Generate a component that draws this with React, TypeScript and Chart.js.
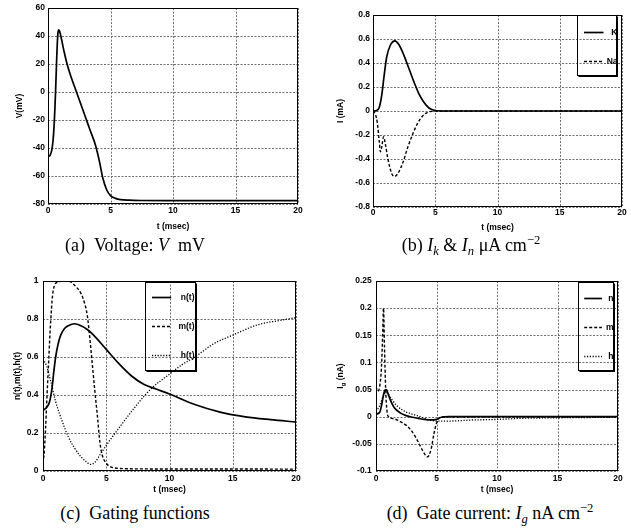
import React, { useEffect, useRef } from 'react';
import { Chart, registerables } from 'chart.js';

Chart.register(...registerables);

// ---------- shared ----------
const xTicks = [0, 5, 10, 15, 20];

// ---------- (a) voltage ----------
const vTime = [0, 0.1, 0.2, 0.3, 0.4, 0.5, 0.55, 0.6, 0.65, 0.7, 0.75, 0.8, 0.86, 0.93, 1.0, 1.1, 1.2, 1.35, 1.5, 1.8, 2.2, 2.6, 3.0, 3.4, 3.8, 4.1, 4.4, 4.7, 5.0, 5.4, 5.8, 6.5, 7.5, 10, 15, 20];
const vValues = [-45.5, -45.8, -44.5, -41.5, -35, -22, -12, -1, 12, 25, 36, 42.5, 44.5, 43.5, 41, 37, 32.5, 26.5, 21, 12, 2, -8, -18, -28, -38, -49, -62, -70, -74, -76, -76.9, -77.3, -77.5, -77.6, -77.6, -77.6];
const vTicks = [-80, -60, -40, -20, 0, 20, 40, 60];

// ---------- (b) ionic currents ----------
const ikTime = [0, 0.3, 0.5, 0.7, 0.9, 1.1, 1.4, 1.75, 2.1, 2.5, 2.9, 3.3, 3.7, 4.1, 4.5, 4.9, 5.4, 6, 10, 15, 20];
const ikValues = [0, 0.005, 0.03, 0.13, 0.3, 0.45, 0.55, 0.585, 0.55, 0.46, 0.35, 0.24, 0.14, 0.07, 0.025, 0.006, 0, 0, 0, 0, 0];
const inaTime = [0, 0.2, 0.35, 0.5, 0.6, 0.7, 0.85, 1.0, 1.2, 1.5, 1.75, 2.0, 2.4, 2.8, 3.2, 3.6, 4.0, 4.4, 4.8, 5.2, 6, 10, 15, 20];
const inaValues = [0, -0.03, -0.1, -0.25, -0.34, -0.3, -0.215, -0.28, -0.4, -0.52, -0.545, -0.52, -0.43, -0.3, -0.19, -0.1, -0.04, -0.01, -0.002, 0, 0, 0, 0, 0];
const iTicks = [-0.8, -0.6, -0.4, -0.2, 0, 0.2, 0.4, 0.6, 0.8];

// ---------- (c) gating functions ----------
const nTime = [0, 0.3, 0.5, 0.7, 0.85, 1.0, 1.2, 1.4, 1.7, 2.0, 2.5, 3.0, 3.5, 4, 5, 6, 7, 8, 9, 10, 12, 14, 16, 18, 20];
const nValues = [0.32, 0.335, 0.36, 0.43, 0.52, 0.6, 0.67, 0.715, 0.75, 0.765, 0.775, 0.765, 0.745, 0.715, 0.64, 0.565, 0.5, 0.455, 0.43, 0.405, 0.35, 0.31, 0.285, 0.27, 0.258];
const mTime = [0, 0.1, 0.2, 0.3, 0.45, 0.6, 0.75, 0.9, 1.1, 1.4, 1.8, 2.2, 2.6, 3.0, 3.3, 3.5, 3.7, 3.9, 4.1, 4.3, 4.5, 4.7, 4.9, 5.2, 5.6, 6.5, 8, 20];
const mValues = [0.04, 0.1, 0.22, 0.37, 0.58, 0.78, 0.92, 0.975, 0.993, 0.998, 1.0, 0.995, 0.97, 0.935, 0.88, 0.82, 0.7, 0.56, 0.42, 0.29, 0.15, 0.08, 0.05, 0.027, 0.017, 0.012, 0.011, 0.01];
const hTime = [0, 0.3, 0.6, 1.0, 1.5, 2.0, 2.5, 3.0, 3.4, 3.75, 4.1, 4.5, 5.0, 5.6, 6.5, 7.5, 8.5, 10, 11, 12, 13.5, 15, 17, 18.5, 20];
const hValues = [0.59, 0.55, 0.475, 0.365, 0.265, 0.18, 0.12, 0.075, 0.05, 0.035, 0.045, 0.085, 0.135, 0.19, 0.27, 0.355, 0.43, 0.51, 0.56, 0.6, 0.67, 0.715, 0.77, 0.79, 0.807];
const gateTicks = [0, 0.2, 0.4, 0.6, 0.8, 1];

// ---------- (d) gate currents ----------
const ignTime = [0, 0.3, 0.45, 0.6, 0.75, 0.85, 1.0, 1.2, 1.5, 2.0, 2.5, 3.0, 3.5, 4.0, 4.5, 5.0, 5.4, 6, 10, 15, 20];
const ignValues = [0.005, 0.008, 0.02, 0.038, 0.049, 0.05, 0.042, 0.03, 0.017, 0.007, 0.002, -0.001, -0.003, -0.005, -0.006, -0.005, -0.001, 0, 0, 0, 0];
const igmTime = [0, 0.15, 0.3, 0.45, 0.55, 0.62, 0.7, 0.8, 0.9, 1.0, 1.5, 2.0, 2.5, 3.0, 3.5, 3.9, 4.25, 4.55, 4.8, 5.0, 5.2, 5.5, 6, 10, 15, 20];
const igmValues = [0.055, 0.047, 0.055, 0.09, 0.15, 0.2, 0.13, 0.05, 0.012, 0.001, -0.004, -0.009, -0.016, -0.028, -0.047, -0.064, -0.074, -0.06, -0.03, -0.012, -0.003, 0, 0, 0, 0, 0];
const ighTime = [0, 0.3, 0.6, 0.8, 1.0, 1.3, 1.7, 2.2, 2.8, 3.4, 4.0, 4.6, 5.2, 6, 8, 10, 12, 15, 20];
const ighValues = [0.01, 0.02, 0.038, 0.045, 0.042, 0.032, 0.021, 0.012, 0.006, 0.002, -0.003, -0.007, -0.008, -0.008, -0.006, -0.005, -0.003, -0.002, -0.001];
const igTicks = [-0.1, -0.05, 0, 0.05, 0.1, 0.15, 0.2, 0.25];

// ---------- styling ----------
const FAMILY = "'Liberation Sans', Arial, Helvetica, sans-serif";
const axisFont = { family: FAMILY, size: 8.5, weight: 'bold' as const, lineHeight: 1.2 };
const SOLID: number[] = [];
const DASHED = [3, 2];
const DOTTED = [1.2, 1.6];

type Series = { label: string; t: number[]; v: number[]; dash: number[]; width: number };
type Key = { align: 'right' | 'center'; right: number; top: number; width: number; height: number; firstRow: number; rowGap: number; sampleStart: number; sampleEnd: number; textRight: number };
type PanelCfg = {
  series: Series[];
  yMin: number; yMax: number; yTicks: number[];
  yTitle?: string;
  yTitleParts?: { text: string; sub?: boolean }[];
  yTitleX?: number;
  yTitlePad: number;
  yWidth: number; yTickPad: number;
  xHeight: number; xTickPad: number; xTitlePad: number;
  padTop: number; padRight: number;
  key?: Key;
};

const fmt = (v: number | string) => String(parseFloat(Number(v).toFixed(4)));

// gnuplot-style dotted grid, frame, key and subscripted y title
const decor = {
  id: 'gnuDecor',
  beforeDatasetsDraw(chart: any) {
    const { ctx, chartArea: a, scales } = chart;
    const xs = scales.x, ys = scales.y;
    ctx.save();
    ctx.strokeStyle = '#6e6e6e';
    ctx.lineWidth = 1;
    ctx.setLineDash([2, 1.5]);
    for (const v of xTicks) {
      const x = Math.round(xs.getPixelForValue(v)) + 0.5;
      ctx.beginPath();
      ctx.moveTo(x, a.top);
      ctx.lineTo(x, a.bottom);
      ctx.stroke();
    }
    for (const t of ys.ticks) {
      const y = Math.round(ys.getPixelForValue(t.value)) + 0.5;
      ctx.beginPath();
      ctx.moveTo(a.left, y);
      ctx.lineTo(a.right, y);
      ctx.stroke();
    }
    ctx.restore();
  },
  afterDatasetsDraw(chart: any, _a: any, opts: any) {
    const { ctx, chartArea: a } = chart;
    ctx.save();
    ctx.setLineDash([]);
    ctx.strokeStyle = '#000';
    ctx.lineWidth = 1;
    const L = Math.round(a.left) + 0.5, T = Math.round(a.top) + 0.5;
    const R = Math.round(a.right) - 0.5, B = Math.round(a.bottom) - 0.5;
    ctx.strokeRect(L, T, R - L, B - T);
    const key: Key | undefined = opts.key;
    if (key) {
      const left = Math.round(key.align === 'center' ? (a.left + a.right) / 2 - key.width / 2 : a.right - key.right - key.width) + 0.5;
      const top = Math.round(a.top + key.top) + 0.5;
      ctx.lineWidth = 1;
      ctx.strokeRect(left, top, key.width, key.height);
      ctx.lineWidth = 2;
      ctx.beginPath();
      ctx.moveTo(left + 1, top + key.height + 0.5);
      ctx.lineTo(left + key.width + 0.5, top + key.height + 0.5);
      ctx.lineTo(left + key.width + 0.5, top + 1);
      ctx.stroke();
      chart.data.datasets.forEach((ds: any, i: number) => {
        const y = Math.round(top + key.firstRow + i * key.rowGap) + 0.5;
        ctx.save();
        ctx.setLineDash(ds.borderDash || []);
        ctx.lineWidth = ds.borderWidth;
        ctx.strokeStyle = ds.borderColor;
        ctx.beginPath();
        ctx.moveTo(left + key.sampleStart, y);
        ctx.lineTo(left + key.sampleEnd, y);
        ctx.stroke();
        ctx.restore();
        ctx.fillStyle = '#000';
        ctx.font = `bold 8.5px ${FAMILY}`;
        ctx.textAlign = 'right';
        ctx.textBaseline = 'middle';
        ctx.fillText(ds.label, left + key.textRight, y);
      });
    }
    ctx.restore();
  },
  afterDraw(chart: any, _a: any, opts: any) {
    const parts = opts.yTitleParts as { text: string; sub?: boolean }[] | undefined;
    if (!parts) return;
    const { ctx, chartArea: a } = chart;
    ctx.save();
    ctx.translate(opts.yTitleX, (a.top + a.bottom) / 2);
    ctx.rotate(-Math.PI / 2);
    ctx.fillStyle = '#000';
    ctx.textBaseline = 'middle';
    ctx.textAlign = 'left';
    const fonts = parts.map(p => (p.sub ? `bold 6px ${FAMILY}` : `bold 8.5px ${FAMILY}`));
    const widths = parts.map((p, i) => { ctx.font = fonts[i]; return ctx.measureText(p.text).width; });
    let x = -widths.reduce((s, w) => s + w, 0) / 2;
    parts.forEach((p, i) => {
      ctx.font = fonts[i];
      ctx.fillText(p.text, x, p.sub ? 2.5 : 0);
      x += widths[i];
    });
    ctx.restore();
  },
};

function buildConfig(p: PanelCfg): any {
  return {
    type: 'line',
    data: {
      datasets: p.series.map(s => ({
        label: s.label,
        data: s.t.map((t, i) => ({ x: t, y: s.v[i] })),
        borderColor: '#000',
        borderWidth: s.width,
        borderDash: s.dash,
        pointRadius: 0,
        fill: false,
        cubicInterpolationMode: 'monotone',
      })),
    },
    options: {
      responsive: false,
      animation: false,
      events: [],
      layout: { padding: { top: p.padTop, right: p.padRight, left: 0, bottom: 0 } },
      plugins: {
        legend: { display: false },
        tooltip: { enabled: false },
        gnuDecor: { key: p.key, yTitleParts: p.yTitleParts, yTitleX: p.yTitleX },
      },
      scales: {
        x: {
          type: 'linear', min: 0, max: 20,
          afterBuildTicks: (s: any) => { s.ticks = xTicks.map(value => ({ value })); },
          afterFit: (s: any) => { s.height = p.xHeight; },
          grid: { display: false, drawTicks: false },
          border: { display: false },
          ticks: { color: '#000', font: axisFont, padding: p.xTickPad, maxRotation: 0, autoSkip: false, callback: fmt },
          title: { display: true, text: 't (msec)', color: '#000', font: axisFont, padding: { top: 0, bottom: p.xTitlePad } },
        },
        y: {
          type: 'linear', min: p.yMin, max: p.yMax,
          afterBuildTicks: (s: any) => { s.ticks = p.yTicks.map(value => ({ value })); },
          afterFit: (s: any) => { s.width = p.yWidth; },
          grid: { display: false, drawTicks: false },
          border: { display: false },
          ticks: { color: '#000', font: axisFont, padding: p.yTickPad, autoSkip: false, callback: fmt },
          title: { display: !!p.yTitle, text: p.yTitle || '', color: '#000', font: axisFont, padding: { top: p.yTitlePad, bottom: 0 } },
        },
      },
    },
    plugins: [decor],
  };
}

const panelA: PanelCfg = {
  series: [{ label: 'V', t: vTime, v: vValues, dash: SOLID, width: 1.7 }],
  yMin: -80, yMax: 60, yTicks: vTicks, yTitle: 'V(mV)', yTitlePad: 15,
  yWidth: 48, yTickPad: 3, xHeight: 32, xTickPad: 2, xTitlePad: 4, padTop: 8, padRight: 12,
};
const panelB: PanelCfg = {
  series: [
    { label: 'K', t: ikTime, v: ikValues, dash: SOLID, width: 1.7 },
    { label: 'Na', t: inaTime, v: inaValues, dash: DASHED, width: 1.4 },
  ],
  yMin: -0.8, yMax: 0.8, yTicks: iTicks, yTitle: 'I (mA)', yTitlePad: 16,
  yWidth: 53, yTickPad: 3, xHeight: 29, xTickPad: 0.5, xTitlePad: 3.2, padTop: 15, padRight: 9,
  key: { align: 'right', right: 6, top: 0, width: 39, height: 60, firstRow: 16.5, rowGap: 29, sampleStart: 6.5, sampleEnd: 26, textRight: 40 },
};
const panelC: PanelCfg = {
  series: [
    { label: 'n(t)', t: nTime, v: nValues, dash: SOLID, width: 1.7 },
    { label: 'm(t)', t: mTime, v: mValues, dash: DASHED, width: 1.4 },
    { label: 'h(t)', t: hTime, v: hValues, dash: DOTTED, width: 1.3 },
  ],
  yMin: 0, yMax: 1, yTicks: gateTicks, yTitle: 'n(t),m(t),h(t)', yTitlePad: 13,
  yWidth: 43, yTickPad: 4.5, xHeight: 25, xTickPad: 3, xTitlePad: 1, padTop: 21, padRight: 14,
  key: { align: 'center', right: 0, top: 1, width: 50, height: 88, firstRow: 14.5, rowGap: 29, sampleStart: 6.5, sampleEnd: 25.7, textRight: 49 },
};
const panelD: PanelCfg = {
  series: [
    { label: 'n', t: ignTime, v: ignValues, dash: SOLID, width: 1.7 },
    { label: 'm', t: igmTime, v: igmValues, dash: DASHED, width: 1.4 },
    { label: 'h', t: ighTime, v: ighValues, dash: DOTTED, width: 1.3 },
  ],
  yMin: -0.1, yMax: 0.25, yTicks: igTicks,
  yTitleParts: [{ text: 'I' }, { text: 'g', sub: true }, { text: ' (nA)' }], yTitleX: 21, yTitlePad: 0,
  yWidth: 56, yTickPad: 4.3, xHeight: 25, xTickPad: 3, xTitlePad: 1, padTop: 21, padRight: 13,
  key: { align: 'right', right: 5, top: 1, width: 35, height: 88, firstRow: 15, rowGap: 29, sampleStart: 5.7, sampleEnd: 23.4, textRight: 35 },
};

function Panel({ cfg, left, top, width, height }: { cfg: PanelCfg; left: number; top: number; width: number; height: number }) {
  const ref = useRef<HTMLCanvasElement>(null);
  useEffect(() => {
    const chart = new Chart(ref.current as HTMLCanvasElement, buildConfig(cfg));
    return () => chart.destroy();
  }, [cfg]);
  return <canvas ref={ref} width={width} height={height} style={{ position: 'absolute', left, top, width, height }} />;
}

const capStyle: React.CSSProperties = {
  position: 'absolute', textAlign: 'center', fontFamily: "'Liberation Serif', 'Times New Roman', serif",
  fontSize: 18, lineHeight: '22px', color: '#000', whiteSpace: 'nowrap',
};
const subStyle: React.CSSProperties = { fontSize: '0.7em', verticalAlign: '-0.3em', lineHeight: 0 };
const supStyle: React.CSSProperties = { fontSize: '0.7em', verticalAlign: '0.55em', lineHeight: 0 };

export default function App() {
  return (
    <div style={{ position: 'absolute', left: 0, top: 0, width: 631, height: 528, background: '#fff', overflow: 'hidden' }}>
      <Panel cfg={panelA} left={0} top={0} width={310} height={236} />
      <Panel cfg={panelB} left={320} top={0} width={311} height={236} />
      <Panel cfg={panelC} left={0} top={260} width={310} height={236} />
      <Panel cfg={panelD} left={320} top={260} width={311} height={236} />
      <div style={{ ...capStyle, left: 0, width: 270, top: 234 }}>(a)&ensp;Voltage: <i>V</i>&nbsp; mV</div>
      <div style={{ ...capStyle, left: 316, width: 310, top: 234 }}>
        (b) <i>I<span style={subStyle}>k</span></i> &amp; <i>I<span style={subStyle}>n</span></i> μA&thinsp;cm<span style={supStyle}>−2</span>
      </div>
      <div style={{ ...capStyle, left: 0, width: 270, top: 502 }}>(c)&ensp;Gating functions</div>
      <div style={{ ...capStyle, left: 335, width: 310, top: 502 }}>
        (d)&ensp;Gate current: <i>I<span style={subStyle}>g</span></i> nA&thinsp;cm<span style={supStyle}>−2</span>
      </div>
    </div>
  );
}
